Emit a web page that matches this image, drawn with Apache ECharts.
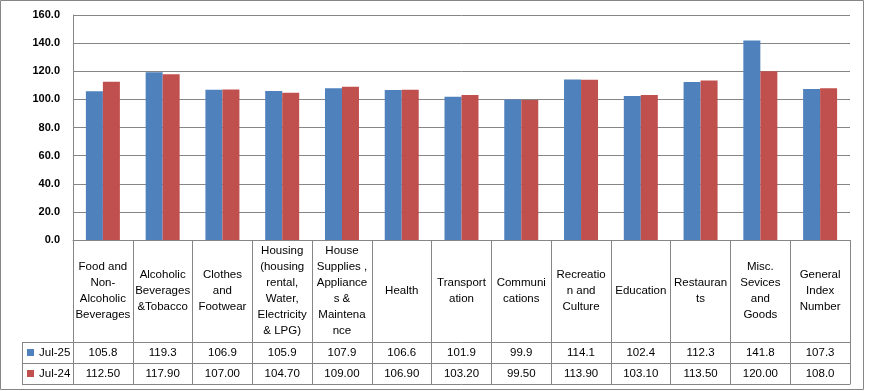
<!DOCTYPE html>
<html>
<head>
<meta charset="utf-8">
<script src="https://cdn.jsdelivr.net/npm/echarts@6/dist/echarts.min.js"></script>
<style>html,body{margin:0;padding:0;background:#fff;}#c{width:869px;height:391px;}</style>
</head>
<body>
<div id="c"></div>
<script>
const categories = ['Food and\nNon-\nAlcoholic\nBeverages', 'Alcoholic\nBeverages\n&Tobacco', 'Clothes\nand\nFootwear', 'Housing\n(housing\nrental,\nWater,\nElectricity\n& LPG)', 'House\nSupplies ,\nAppliance\ns &\nMaintena\nnce', 'Health', 'Transport\nation', 'Communi\ncations', 'Recreatio\nn and\nCulture', 'Education', 'Restauran\nts', 'Misc.\nSevices\nand\nGoods', 'General\nIndex\nNumber'];
const seriesNames = ['Jul-25', 'Jul-24'];
const jul25 = [105.8, 119.3, 106.9, 105.9, 107.9, 106.6, 101.9, 99.9, 114.1, 102.4, 112.3, 141.8, 107.3];
const jul24 = [112.5, 117.9, 107.0, 104.7, 109.0, 106.9, 103.2, 99.5, 113.9, 103.1, 113.5, 120.0, 108.0];
const jul25Labels = ['105.8', '119.3', '106.9', '105.9', '107.9', '106.6', '101.9', '99.9', '114.1', '102.4', '112.3', '141.8', '107.3'];
const jul24Labels = ['112.50', '117.90', '107.00', '104.70', '109.00', '106.90', '103.20', '99.50', '113.90', '103.10', '113.50', '120.00', '108.0'];
const yTicks = { min: 0, max: 160, interval: 20 };

const G = { left: 73, right: 19, top: 15, height: 225 };
const legendColLeft = 22;
const rowOffsets = [102, 123, 144];
const lineColor = '#868686';
const font = 'Liberation Sans, Arial, sans-serif';
const fs = 11.5;

const chart = echarts.init(document.getElementById('c'), null, { renderer: 'canvas' });
const axisBottom = G.top + G.height;

const graphic = [
  { type: 'rect', shape: { x: 0.5, y: 0.5, width: 863, height: 389 }, style: { fill: 'none', stroke: lineColor, lineWidth: 1 }, silent: true },
  { type: 'line', shape: { x1: legendColLeft + 0.5, y1: axisBottom + rowOffsets[0], x2: legendColLeft + 0.5, y2: axisBottom + rowOffsets[2] + 1 }, style: { stroke: lineColor, lineWidth: 1 }, silent: true }
];
rowOffsets.forEach(o => {
  graphic.push({ type: 'line', shape: { x1: legendColLeft, y1: axisBottom + o + 0.5, x2: G.left, y2: axisBottom + o + 0.5 }, style: { stroke: lineColor, lineWidth: 1 }, silent: true });
});

function rowAxis(offset, labels) {
  return {
    type: 'category', data: categories, position: 'bottom', offset: offset,
    axisLine: { show: true, lineStyle: { color: lineColor, width: 1 } },
    axisTick: { show: false },
    axisLabel: labels ? { show: true, interval: 0, margin: 11, verticalAlign: 'middle', fontSize: fs, color: '#000', fontFamily: font, formatter: (v, i) => labels[i] } : { show: false },
    splitLine: { show: false }
  };
}

chart.setOption({
  animation: false,
  backgroundColor: '#fff',
  grid: { left: G.left, right: G.right, top: G.top, height: G.height, containLabel: false },
  legend: {
    orient: 'vertical', left: 27, top: 346, padding: 0, itemWidth: 7, itemHeight: 7, itemGap: 8,
    icon: 'rect', data: seriesNames,
    textStyle: { fontSize: fs, color: '#000', fontFamily: font, lineHeight: 13 }
  },
  xAxis: [
    {
      type: 'category', data: categories, position: 'bottom',
      axisLine: { show: true, lineStyle: { color: lineColor, width: 1 } },
      axisTick: { show: true, interval: 0, length: 144, lineStyle: { color: lineColor } },
      axisLabel: { interval: 0, margin: 51, verticalAlign: 'middle', fontSize: fs, lineHeight: 16, color: '#000', fontFamily: font },
      splitLine: { show: false }
    },
    rowAxis(rowOffsets[0], jul25Labels),
    rowAxis(rowOffsets[1], jul24Labels),
    rowAxis(rowOffsets[2], null)
  ],
  yAxis: {
    type: 'value', min: yTicks.min, max: yTicks.max, interval: yTicks.interval,
    axisLine: { show: true, lineStyle: { color: lineColor } },
    axisTick: { show: false },
    axisLabel: { margin: 13, fontSize: 11, fontWeight: 'bold', color: '#000', fontFamily: font, formatter: v => v.toFixed(1) },
    splitLine: { show: true, lineStyle: { color: lineColor, width: 1 } }
  },
  series: [
    { name: seriesNames[0], type: 'bar', xAxisIndex: 0, data: jul25, barWidth: 17, barGap: '0%', itemStyle: { color: '#4F81BD' } },
    { name: seriesNames[1], type: 'bar', xAxisIndex: 0, data: jul24, barWidth: 17, barGap: '0%', itemStyle: { color: '#C0504D' } }
  ],
  graphic: graphic
});
</script>
</body>
</html>
